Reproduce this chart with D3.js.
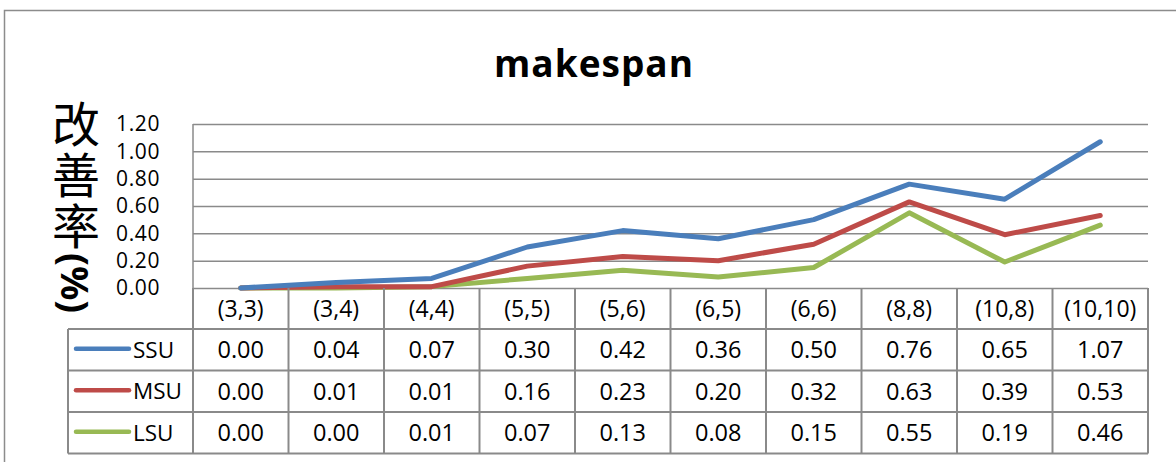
<!DOCTYPE html>
<html>
<head>
<meta charset="utf-8">
<script src="https://cdn.jsdelivr.net/npm/d3@7"></script>
<style>
  html, body { margin: 0; padding: 0; background: #fff; }
  svg { display: block; }
  text { font-family: "Open Sans", "Noto Sans", sans-serif; fill: #000; }
</style>
</head>
<body>
<svg id="chart" width="1176" height="462"></svg>
<script>
// Problem sizes (machines, jobs) along the x axis
const categories = ["(3,3)", "(3,4)", "(4,4)", "(5,5)", "(5,6)", "(6,5)", "(6,6)", "(8,8)", "(10,8)", "(10,10)"];
// Improvement rate (%) for each strategy
const ssu = [0.00, 0.04, 0.07, 0.30, 0.42, 0.36, 0.50, 0.76, 0.65, 1.07];
const msu = [0.00, 0.01, 0.01, 0.16, 0.23, 0.20, 0.32, 0.63, 0.39, 0.53];
const lsu = [0.00, 0.00, 0.01, 0.07, 0.13, 0.08, 0.15, 0.55, 0.19, 0.46];
const seriesNames = ["SSU", "MSU", "LSU"];
const yTicks = [0, 0.2, 0.4, 0.6, 0.8, 1.0, 1.2];

const series = [
  { name: seriesNames[0], values: ssu, color: "#4a7ebb" },
  { name: seriesNames[1], values: msu, color: "#be4b48" },
  { name: seriesNames[2], values: lsu, color: "#98b954" }
];

const svg = d3.select("#chart");
const gridColor = "#8a8a8a";

// plot frame
const plot = { left: 193, right: 1148, top: 124, bottom: 288 };
const table = { left: 68, rowH: 41.5, headH: 41 };

const x = d3.scaleBand().domain(categories).range([plot.left, plot.right]).padding(0);
const y = d3.scaleLinear().domain([0, 1.2]).range([plot.bottom, plot.top]);

// outer chart border
svg.append("rect")
  .attr("x", 4.5).attr("y", 10.5)
  .attr("width", 1300).attr("height", 600)
  .attr("fill", "none").attr("stroke", "#8c8c8c").attr("stroke-width", 1.5);

// title
svg.append("text")
  .attr("x", 594).attr("y", 77)
  .attr("text-anchor", "middle")
  .attr("font-size", 37).attr("font-weight", "bold")
  .attr("letter-spacing", 1)
  .text("makespan");

// horizontal gridlines
const grid = svg.append("g")
  .attr("transform", `translate(${plot.left},0)`)
  .call(d3.axisRight(y).tickValues(yTicks).tickSize(plot.right - plot.left).tickFormat(""));
grid.select(".domain").remove();
grid.selectAll(".tick line").attr("stroke", gridColor).attr("stroke-width", 1.5);

// y axis labels
const yAxis = svg.append("g")
  .attr("transform", `translate(${plot.left},0)`)
  .call(d3.axisLeft(y).tickValues(yTicks).tickSize(0).tickPadding(33).tickFormat(d3.format(".2f")));
yAxis.select(".domain").remove();
yAxis.selectAll("text").attr("font-size", 21).attr("fill", "#000")
  .attr("letter-spacing", 0.6)
  .style("font-family", "'Open Sans', sans-serif");

// y axis line
svg.append("line")
  .attr("x1", plot.left).attr("x2", plot.left)
  .attr("y1", plot.top).attr("y2", plot.bottom)
  .attr("stroke", gridColor).attr("stroke-width", 1.5);

// vertical axis title: CJK upright, "(%)" turned sideways
const yTitle = svg.append("text")
  .attr("x", 76).attr("y", 100)
  .style("writing-mode", "vertical-rl")
  .style("text-orientation", "mixed")
  .style("font-family", "'Noto Sans CJK SC', sans-serif")
  .attr("font-size", 48)
  .attr("letter-spacing", 3);
yTitle.append("tspan").text("改善率");
yTitle.append("tspan")
  .attr("font-weight", "bold")
  .attr("font-size", 38)
  .attr("letter-spacing", 0)
  .style("font-family", "'Noto Sans', sans-serif")
  .text("(%)");

// series lines
const line = d3.line()
  .x((d, i) => x(categories[i]) + x.bandwidth() / 2)
  .y(d => y(d));

svg.append("g").selectAll("path")
  .data(series.slice().reverse())
  .join("path")
  .attr("d", d => line(d.values))
  .attr("fill", "none")
  .attr("stroke", d => d.color)
  .attr("stroke-width", 5)
  .attr("stroke-linejoin", "round")
  .attr("stroke-linecap", "round");

// data table
const tableG = svg.append("g");
const rowTop = plot.bottom + table.headH;
const tableBottom = rowTop + table.rowH * series.length;

// header row labels
tableG.selectAll("text.head")
  .data(categories)
  .join("text")
  .attr("class", "head")
  .attr("x", d => x(d) + x.bandwidth() / 2)
  .attr("y", plot.bottom + table.headH / 2 + 8)
  .attr("text-anchor", "middle")
  .attr("font-size", 23)
  .text(d => d);

// vertical column separators
const colEdges = categories.map(c => x(c)).concat([plot.right]);
tableG.selectAll("line.col")
  .data(colEdges)
  .join("line")
  .attr("class", "col")
  .attr("x1", d => d).attr("x2", d => d)
  .attr("y1", plot.bottom).attr("y2", tableBottom)
  .attr("stroke", gridColor).attr("stroke-width", 2);

// left edge of legend column
tableG.append("line")
  .attr("x1", table.left).attr("x2", table.left)
  .attr("y1", rowTop).attr("y2", tableBottom)
  .attr("stroke", gridColor).attr("stroke-width", 2);

// horizontal row separators
tableG.selectAll("line.row")
  .data(d3.range(series.length + 1))
  .join("line")
  .attr("class", "row")
  .attr("x1", table.left).attr("x2", plot.right)
  .attr("y1", i => rowTop + i * table.rowH)
  .attr("y2", i => rowTop + i * table.rowH)
  .attr("stroke", gridColor).attr("stroke-width", 2);

// rows: legend key + values
series.forEach((s, r) => {
  const cy = rowTop + r * table.rowH + table.rowH / 2;
  tableG.append("line")
    .attr("x1", 76).attr("x2", 129)
    .attr("y1", cy - 1).attr("y2", cy - 1)
    .attr("stroke", s.color).attr("stroke-width", 4.5)
    .attr("stroke-linecap", "round");
  tableG.append("text")
    .attr("x", 133).attr("y", cy + 8)
    .attr("font-size", 22.5)
    .text(s.name);
  tableG.selectAll(null)
    .data(s.values)
    .join("text")
    .attr("x", (d, i) => x(categories[i]) + x.bandwidth() / 2)
    .attr("y", cy + 8.5)
    .attr("text-anchor", "middle")
    .attr("font-size", 23.5)
    .text(d => d3.format(".2f")(d));
});
</script>
</body>
</html>
